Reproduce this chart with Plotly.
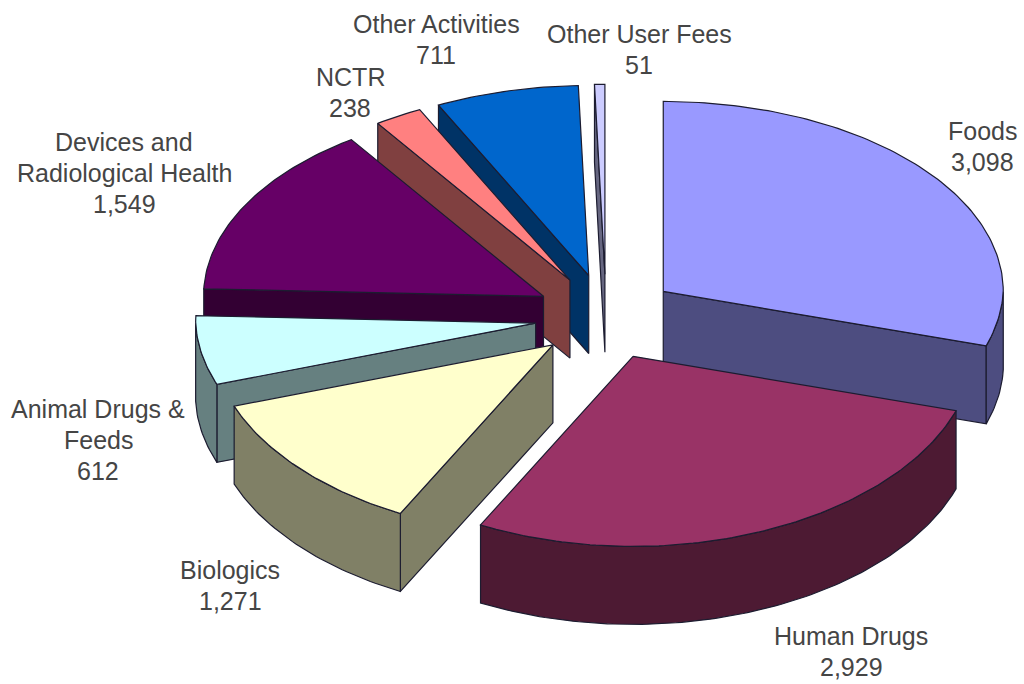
import math
import plotly.graph_objects as go

# ---- data ----
categories = ["Foods", "Human Drugs", "Biologics", "Animal Drugs & Feeds",
              "Devices and Radiological Health", "NCTR", "Other Activities", "Other User Fees"]
values = [3098, 2929, 1271, 612, 1549, 238, 711, 51]
label_lines = [["Foods"], ["Human Drugs"], ["Biologics"], ["Animal Drugs &", "Feeds"],
               ["Devices and", "Radiological Health"], ["NCTR"], ["Other Activities"], ["Other User Fees"]]

# ---- styling and layout ----
top_colors = ["#9999FF", "#993366", "#FFFFCC", "#CCFFFF", "#660066", "#FF8080", "#0066CC", "#CCCCFF"]
side_colors = ["#4D4D80", "#4D1A33", "#808066", "#668080", "#330033", "#804040", "#003366", "#666680"]
label_centers = [(982, 131), (851, 636), (230, 570), (98, 409), (124, 142), (350, 77), (436, 24), (639, 34)]
line_gap = 31
draw_order = [0, 7, 6, 5, 4, 3, 2, 1]
CX, CY = 606, 317
RX, RY = 340, 190
EXPLODE_X, EXPLODE_Y = 0.21, 0.225
DROP = 78
NEAR_NARROW = 0.03
EDGE = "#1c1c30"
FONT = dict(family="Liberation Sans", size=25, color="#454545")


def on_ellipse(theta):
    t = math.radians(theta)
    narrow = 1 - NEAR_NARROW * max(0.0, -math.cos(t))
    return RX * narrow * math.sin(t), -RY * math.cos(t)


def polygon(fig, pts, fill):
    xs = [p[0] for p in pts] + [pts[0][0]]
    ys = [p[1] for p in pts] + [pts[0][1]]
    fig.add_trace(go.Scatter(x=xs, y=ys, mode="lines", fill="toself", fillcolor=fill,
                             line=dict(color=EDGE, width=1.2), hoverinfo="skip", showlegend=False))


def arc(a, b):
    n = max(2, int(abs(b - a)) + 2)
    return [a + (b - a) * i / (n - 1) for i in range(n)]


fig = go.Figure()
total = sum(values)
starts = []
acc = 0.0
for v in values:
    starts.append(acc / total * 360)
    acc += v

for i in draw_order:
    t1 = starts[i]
    t2 = t1 + values[i] / total * 360
    mid = (t1 + t2) / 2
    dx, dy = on_ellipse(mid)
    ax, ay = CX + EXPLODE_X * dx, CY + EXPLODE_Y * dy

    def pt(theta, drop=0):
        ex, ey = on_ellipse(theta)
        return ax + ex, ay + ey + drop

    # radial cut faces that look towards the viewer
    if math.cos(math.radians(t1 - 90)) < 0:
        polygon(fig, [(ax, ay), pt(t1), pt(t1, DROP), (ax, ay + DROP)], side_colors[i])
    if math.cos(math.radians(t2 + 90)) < 0:
        polygon(fig, [(ax, ay), pt(t2), pt(t2, DROP), (ax, ay + DROP)], side_colors[i])
    # outer rim between 90 and 270 degrees
    lo, hi = max(t1, 90), min(t2, 270)
    if hi > lo:
        th = arc(lo, hi)
        polygon(fig, [pt(x) for x in th] + [pt(x, DROP) for x in reversed(th)], side_colors[i])
    # top
    polygon(fig, [(ax, ay)] + [pt(x) for x in arc(t1, t2)], top_colors[i])

annotations = []
for lines, v, (lx, ly) in zip(label_lines, values, label_centers):
    for k, s in enumerate(lines + [f"{v:,}"]):
        annotations.append(dict(x=lx, y=ly + k * line_gap, text=s, showarrow=False,
                                xanchor="center", yanchor="middle", font=FONT))

fig.update_layout(
    width=1024, height=684, margin=dict(l=0, r=0, t=0, b=0),
    paper_bgcolor="white", plot_bgcolor="white", showlegend=False,
    xaxis=dict(range=[0, 1024], visible=False, fixedrange=True),
    yaxis=dict(range=[684, 0], visible=False, fixedrange=True),
    annotations=annotations,
)
fig.write_html("out.html", config=dict(displayModeBar=False),
               post_script="document.body.style.margin='0';document.documentElement.style.overflow='hidden';")
